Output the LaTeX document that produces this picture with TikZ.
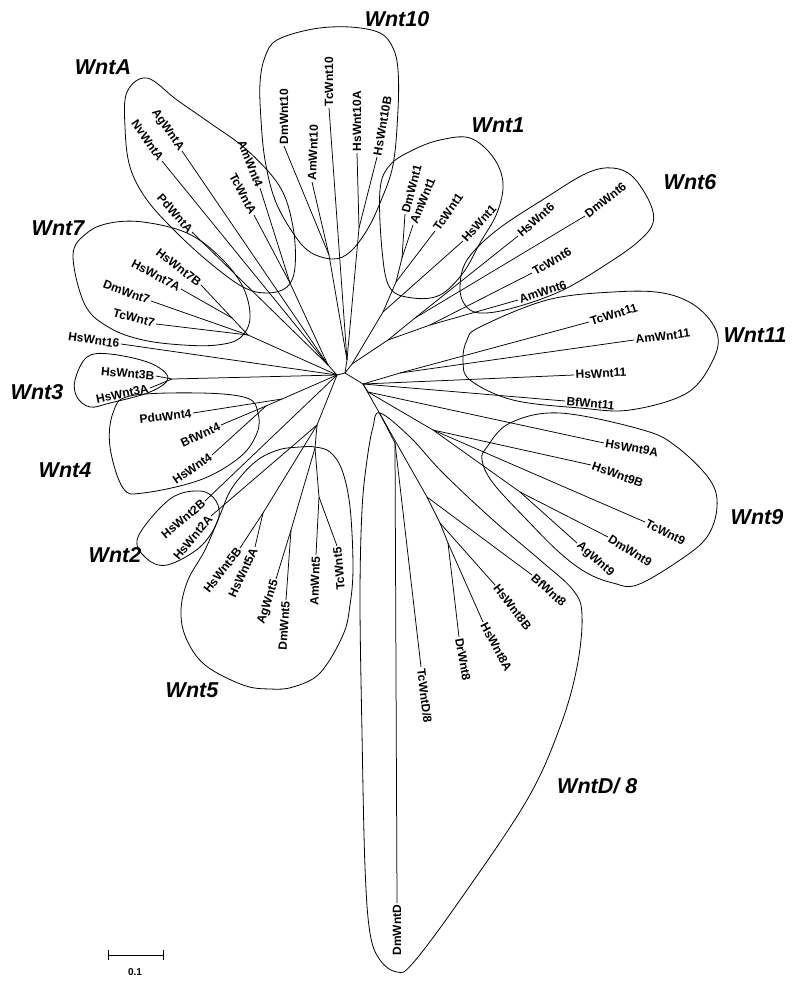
\documentclass[tikz,border=0pt]{standalone}
\usepackage{fontspec}
\setmainfont{Liberation Sans}
\begin{document}
\begin{tikzpicture}[x=1pt,y=-1pt,
  br/.style={draw=black, line width=0.75pt},
  hull/.style={draw=black, line width=0.8pt},
  leafR/.style={anchor=west, inner sep=1.5pt, font=\fontsize{12}{12}\selectfont\bfseries},
  leafL/.style={anchor=east, inner sep=1.5pt, font=\fontsize{12}{12}\selectfont\bfseries},
  grp/.style={font=\fontsize{21.5}{22}\selectfont\bfseries\itshape, inner sep=0pt}]
\useasboundingbox (0,0) rectangle (800,985);

% ---------- internal nodes ----------
\coordinate (CL) at (337,375);
\coordinate (CR) at (345,373);
\coordinate (T1) at (347,360);
\coordinate (w10H) at (359,228);
\coordinate (w10DA) at (329,255);
\coordinate (R1) at (352,364);
\coordinate (w1a) at (402,258);
\coordinate (w1b) at (396,282);
\coordinate (w1c) at (383,312);
\coordinate (w6) at (388,340);
\coordinate (w6p) at (415,318);
\coordinate (w6q) at (430,325);
\coordinate (n11) at (363,384);
\coordinate (w11a) at (400,373);
\coordinate (n9) at (368,392);
\coordinate (w9b) at (433,430);
\coordinate (w9c) at (520,492);
\coordinate (n8) at (380,414);
\coordinate (D) at (395,443);
\coordinate (w8) at (427,497);
\coordinate (w8b) at (440,523);
\coordinate (w8c) at (448,543);
\coordinate (wA) at (328,365);
\coordinate (wA1) at (290,283);
\coordinate (w7) at (248,335);
\coordinate (w7h) at (232,318);
\coordinate (w3) at (172,379);
\coordinate (w4) at (282,399);
\coordinate (w4b) at (266,406);
\coordinate (D1) at (317,425);
\coordinate (w5h) at (263,513);
\coordinate (w5) at (315,448);
\coordinate (w5ad) at (291,530);
\coordinate (w5at) at (319,497);

% ---------- leaves (right-reading) ----------
\node[leafR, rotate=90] (TcWnt10) at (329,108) {TcWnt10};
\node[leafR, rotate=90] (HsWnt10A) at (357,153) {HsWnt10A};
\node[leafR, rotate=80] (HsWnt10B) at (377,157) {HsWnt10B};
\node[leafR, rotate=90] (DmWnt10) at (284,146) {DmWnt10};
\node[leafR, rotate=88] (AmWnt10) at (312,182) {AmWnt10};
\node[leafR, rotate=75] (DmWnt1) at (405,214) {DmWnt1};
\node[leafR, rotate=68] (AmWnt1) at (413,225) {AmWnt1};
\node[leafR, rotate=55] (TcWnt1) at (435,231) {TcWnt1};
\node[leafR, rotate=48] (HsWnt1) at (463,241) {HsWnt1};
\node[leafR, rotate=42] (HsWnt6) at (518,236) {HsWnt6};
\node[leafR, rotate=38] (DmWnt6) at (585,216) {DmWnt6};
\node[leafR, rotate=30] (TcWnt6) at (532,273) {TcWnt6};
\node[leafR, rotate=18] (AmWnt6) at (518,300) {AmWnt6};
\node[leafR, rotate=17] (TcWnt11) at (589,322) {TcWnt11};
\node[leafR, rotate=7] (AmWnt11) at (634,340) {AmWnt11};
\node[leafR, rotate=3] (HsWnt11) at (574,375) {HsWnt11};
\node[leafR, rotate=-5] (BfWnt11) at (565,401) {BfWnt11};
\node[leafR, rotate=-10] (HsWnt9A) at (604,443) {HsWnt9A};
\node[leafR, rotate=-20] (HsWnt9B) at (591,465) {HsWnt9B};
\node[leafR, rotate=-27] (TcWnt9) at (645,522) {TcWnt9};
\node[leafR, rotate=-32] (DmWnt9) at (608,537) {DmWnt9};
\node[leafR, rotate=-42] (AgWnt9) at (577,543) {AgWnt9};
\node[leafR, rotate=-42] (BfWnt8) at (532,575) {BfWnt8};
\node[leafR, rotate=-52] (HsWnt8B) at (495,585) {HsWnt8B};
\node[leafR, rotate=-62] (HsWnt8A) at (483,622) {HsWnt8A};
\node[leafR, rotate=-80] (DrWnt8) at (459,637) {DrWnt8};
\node[leafR, rotate=-83] (TcWntD8) at (421,667) {TcWntD/8};

% ---------- leaves (left-reading) ----------
\node[leafL, rotate=90] (DmWntD) at (397,903) {DmWntD};
\node[leafL, rotate=-55] (AgWntA) at (182,151) {AgWntA};
\node[leafL, rotate=-55] (NvWntA) at (162,161) {NvWntA};
\node[leafL, rotate=-48] (PdWntA) at (192,232) {PdWntA};
\node[leafL, rotate=-68] (AmWnt4) at (260,188) {AmWnt4};
\node[leafL, rotate=-62] (TcWntA) at (254,215) {TcWntA};
\node[leafL, rotate=-38] (HsWnt7B) at (201,285) {HsWnt7B};
\node[leafL, rotate=-28] (HsWnt7A) at (181,289) {HsWnt7A};
\node[leafL, rotate=-20] (DmWnt7) at (151,301) {DmWnt7};
\node[leafL, rotate=-15] (TcWnt7) at (156,324) {TcWnt7};
\node[leafL, rotate=-8] (HsWnt16) at (121,344) {HsWnt16};
\node[leafL, rotate=-5] (HsWnt3B) at (156,376) {HsWnt3B};
\node[leafL, rotate=12] (HsWnt3A) at (150,388) {HsWnt3A};
\node[leafL, rotate=7] (PduWnt4) at (193,413) {PduWnt4};
\node[leafL, rotate=25] (BfWnt4) at (221,425) {BfWnt4};
\node[leafL, rotate=35] (HsWnt4) at (212,455) {HsWnt4};
\node[leafL, rotate=40] (HsWnt2B) at (205,501) {HsWnt2B};
\node[leafL, rotate=50] (HsWnt2A) at (211,516) {HsWnt2A};
\node[leafL, rotate=52] (HsWnt5B) at (240,548) {HsWnt5B};
\node[leafL, rotate=65] (HsWnt5A) at (255,547) {HsWnt5A};
\node[leafL, rotate=72] (AgWnt5) at (276,579) {AgWnt5};
\node[leafL, rotate=86] (DmWnt5) at (286,600) {DmWnt5};
\node[leafL, rotate=88] (AmWnt5) at (316,555) {AmWnt5};
\node[leafL, rotate=95] (TcWnt5) at (337,546) {TcWnt5};

% ---------- branches ----------
\draw[br] (CL) -- (CR);
% Wnt10
\draw[br] (CR) -- (T1);
\draw[br] (T1) -- (TcWnt10.west);
\draw[br] (T1) -- (w10H) -- (HsWnt10A.west);
\draw[br] (w10H) -- (HsWnt10B.west);
\draw[br] (T1) -- (w10DA) -- (DmWnt10.west);
\draw[br] (w10DA) -- (AmWnt10.west);
% Wnt1
\draw[br] (CR) -- (R1) -- (w1c) -- (HsWnt1.west);
\draw[br] (w1c) -- (w1b) -- (TcWnt1.west);
\draw[br] (w1b) -- (w1a) -- (DmWnt1.west);
\draw[br] (w1a) -- (AmWnt1.west);
% Wnt6
\draw[br] (R1) -- (w6) -- (w6p) -- (HsWnt6.west);
\draw[br] (w6p) -- (DmWnt6.west);
\draw[br] (w6) -- (w6q) -- (TcWnt6.west);
\draw[br] (w6q) -- (AmWnt6.west);
% Wnt11
\draw[br] (CR) -- (n11) -- (w11a) -- (TcWnt11.west);
\draw[br] (w11a) -- (AmWnt11.west);
\draw[br] (n11) -- (HsWnt11.west);
\draw[br] (n11) -- (BfWnt11.west);
% Wnt9
\draw[br] (n11) -- (n9) -- (HsWnt9A.west);
\draw[br] (n9) -- (w9b) -- (HsWnt9B.west);
\draw[br] (w9b) -- (TcWnt9.west);
\draw[br] (w9b) -- (w9c) -- (DmWnt9.west);
\draw[br] (w9c) -- (AgWnt9.west);
% WntD/8
\draw[br] (n11) -- (n8) -- (D) -- (DmWntD.east);
\draw[br] (D) -- (TcWntD8.west);
\draw[br] (n8) -- (w8) -- (BfWnt8.west);
\draw[br] (w8) -- (w8b) -- (HsWnt8B.west);
\draw[br] (w8b) -- (w8c) -- (HsWnt8A.west);
\draw[br] (w8c) -- (DrWnt8.west);
% WntA
\draw[br] (CL) -- (wA) -- (AgWntA.east);
\draw[br] (wA) -- (NvWntA.east);
\draw[br] (wA) -- (PdWntA.east);
\draw[br] (wA) -- (wA1) -- (AmWnt4.east);
\draw[br] (wA1) -- (TcWntA.east);
% Wnt7
\draw[br] (CL) -- (w7) -- (w7h) -- (HsWnt7B.east);
\draw[br] (w7h) -- (HsWnt7A.east);
\draw[br] (w7) -- (DmWnt7.east);
\draw[br] (w7) -- (TcWnt7.east);
% Wnt16, Wnt3, Wnt4
\draw[br] (CL) -- (HsWnt16.east);
\draw[br] (CL) -- (w3) -- (HsWnt3B.east);
\draw[br] (w3) -- (HsWnt3A.east);
\draw[br] (CL) -- (w4) -- (PduWnt4.east);
\draw[br] (w4) -- (w4b) -- (BfWnt4.east);
\draw[br] (w4b) -- (HsWnt4.east);
% Wnt2, Wnt5
\draw[br] (CL) -- (HsWnt2B.east);
\draw[br] (CL) -- (D1) -- (HsWnt2A.east);
\draw[br] (D1) -- (w5h) -- (HsWnt5B.east);
\draw[br] (w5h) -- (HsWnt5A.east);
\draw[br] (D1) -- (w5) -- (w5ad) -- (AgWnt5.east);
\draw[br] (w5ad) -- (DmWnt5.east);
\draw[br] (w5) -- (w5at) -- (AmWnt5.east);
\draw[br] (w5at) -- (TcWnt5.east);

% ---------- clade outlines ----------
\draw[hull] plot[smooth cycle, tension=0.6] coordinates {(260,83) (265,57) (277,40) (313,29) (350,27) (380,33) (393,48) (398,70) (398,110) (393,165) (380,203) (367,230) (350,252) (333,259) (310,252) (293,233) (275,200) (265,160) (261,120)};
\draw[hull] plot[smooth cycle, tension=0.6] coordinates {(127,92) (147,78) (177,100) (210,123) (247,150) (280,187) (293,227) (295,267) (287,287) (267,293) (243,287) (210,263) (177,233) (147,200) (130,167) (125,127)};
\draw[hull] plot[smooth cycle, tension=0.6] coordinates {(73,255) (87,233) (110,223) (143,222) (187,233) (220,257) (243,287) (250,318) (240,338) (217,345) (183,345) (143,340) (110,328) (85,305)};
\draw[hull] plot[smooth cycle, tension=0.6] coordinates {(75,380) (87,357) (110,354) (150,363) (168,378) (150,392) (110,403) (90,407) (77,397)};
\draw[hull] plot[smooth cycle, tension=0.6] coordinates {(113,413) (130,396) (200,393) (247,398) (258,413) (257,433) (240,457) (200,480) (143,493) (123,488) (110,447)};
\draw[hull] plot[smooth cycle, tension=0.6] coordinates {(138,537) (170,499) (200,491) (216,501) (218,520) (200,547) (167,565) (146,558)};
\draw[hull] plot[smooth cycle, tension=0.6] coordinates {(300,447) (315,447) (330,452) (342,470) (350,507) (353,567) (350,605) (343,635) (320,673) (293,687) (270,689) (243,685) (205,665) (186,638) (181,610) (188,580) (205,550) (220,515) (232,488) (255,462) (278,450)};
\draw[hull] plot[smooth cycle, tension=0.6] coordinates {(380,413) (410,437) (443,473) (493,520) (540,560) (573,590) (582,615) (577,667) (560,727) (527,800) (460,900) (413,963) (397,972) (380,960) (370,933) (365,867) (362,733) (360,600) (362,510) (367,460) (373,427)};
\draw[hull] plot[smooth cycle, tension=0.6] coordinates {(482,460) (487,447) (510,423) (560,413) (643,430) (677,447) (710,480) (717,507) (707,537) (680,560) (637,585) (613,583) (587,573) (560,553) (527,520) (493,483)};
\draw[hull] plot[smooth cycle, tension=0.6] coordinates {(467,340) (480,327) (547,300) (613,292) (663,293) (697,307) (717,333) (713,360) (687,393) (630,410) (580,408) (513,400) (470,380) (463,360)};
\draw[hull] plot[smooth cycle, tension=0.6] coordinates {(460,287) (467,260) (497,230) (547,197) (587,173) (613,168) (633,177) (650,203) (653,223) (640,240) (613,260) (563,290) (513,308) (480,313) (465,305)};
\draw[hull] plot[smooth cycle, tension=0.6] coordinates {(380,190) (390,165) (413,150) (440,140) (470,138) (493,157) (503,183) (497,213) (480,243) (463,273) (440,295) (413,298) (390,288) (382,250)};

% ---------- clade labels ----------
\node[grp] (gW10) at (397,19) {Wnt10};
\node[grp] (gWA) at (103,67) {WntA};
\node[grp] (gW1) at (498,125) {Wnt1};
\node[grp] (gW6) at (690,182) {Wnt6};
\node[grp] (gW7) at (58,228) {Wnt7};
\node[grp] (gW11) at (755,335) {Wnt11};
\node[grp] (gW3) at (37,392) {Wnt3};
\node[grp] (gW4) at (65,470) {Wnt4};
\node[grp] (gW2) at (115,555) {Wnt2};
\node[grp] (gW9) at (757,517) {Wnt9};
\node[grp] (gW5) at (192,690) {Wnt5};
\node[grp, anchor=west] (gWD) at (557,786) {WntD/ 8};

% ---------- scale bar ----------
\coordinate (sbL) at (108,955);
\coordinate (sbR) at (163,955);
\draw[br] (sbL) -- (sbR);
\draw[br] (108,950) -- (108,960);
\draw[br] (163,950) -- (163,960);
\node[font=\fontsize{10}{10}\selectfont\bfseries] (sbT) at (135,972) {0.1};
\end{tikzpicture}
\end{document}
